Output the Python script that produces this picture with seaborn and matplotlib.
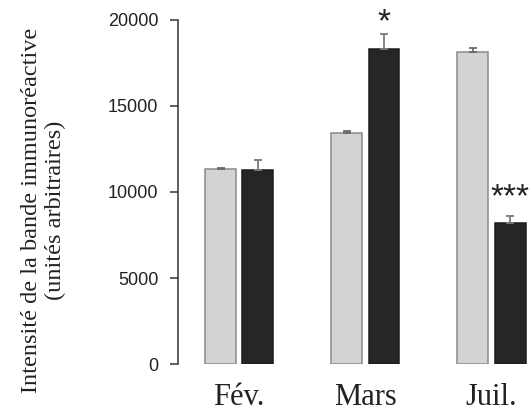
import matplotlib
matplotlib.use("Agg")
import matplotlib.pyplot as plt
import seaborn as sns
import pandas as pd

# ---- data ----
months = ["Fév.", "Mars", "Juil."]
groups = ["Témoin", "Traité"]
values_gray = [11300, 13430, 18130]
errors_gray = [100, 100, 200]
values_black = [11270, 18300, 8180]
errors_black = [580, 850, 420]
yticks = [0, 5000, 10000, 15000, 20000]
ylabel = "Intensité de la bande immunoréactive\n(unités arbitraires)"
star_labels = ["", "*", "***"]
star_y = [None, 19300, 9170]

df = pd.DataFrame({
    "mois": months * 2,
    "groupe": [groups[0]] * 3 + [groups[1]] * 3,
    "valeur": values_gray + values_black,
})

sns.set_theme(style="white")
fig = plt.figure(figsize=(5.32, 4.13), dpi=100)
ax = fig.add_axes([177.7 / 532, 1 - 364.3 / 413, 1 - 177.7 / 532, (364.3 - 19.5) / 413])

palette = {groups[0]: "#d3d3d3", groups[1]: "#262626"}
sns.barplot(data=df, x="mois", y="valeur", hue="groupe", order=months,
            hue_order=groups, palette=palette, width=0.59, gap=0.17,
            errorbar=None, legend=False, ax=ax, saturation=1)

bar_conts = list(ax.containers)
edge_colors = ["#8a8a8a", "#1c1c1c"]
err_colors = ["#6a6a6a", "#7a7a7a"]
errs = [errors_gray, errors_black]
vals = [values_gray, values_black]
centers = []
for ci, cont in enumerate(bar_conts):
    xs = []
    for p in cont.patches:
        p.set_edgecolor(edge_colors[ci])
        p.set_linewidth(1.1)
        xs.append(p.get_x() + p.get_width() / 2)
    centers.append(xs)
    ax.errorbar(xs, vals[ci], yerr=[[0] * len(xs), errs[ci]], fmt="none",
                ecolor=err_colors[ci], elinewidth=1.3, capsize=3.2,
                capthick=1.3, zorder=1)

# significance stars over the second series
for x, lab, yy in zip(centers[1], star_labels, star_y):
    if lab:
        ax.text(x, yy, lab, ha="center", va="baseline", fontsize=24,
                family="Liberation Sans", color="#222222", clip_on=False)

ax.set_ylim(0, 20000)
ax.set_xlim(-0.4875, 2.321)
ax.set_yticks(yticks)
ax.set_yticklabels([str(t) for t in yticks], family="Liberation Sans",
                   fontsize=13, color="#222222")
ax.set_xticks(range(len(months)))
ax.set_xticklabels(months, family="Liberation Serif", fontsize=22,
                   color="#222222")
ax.tick_params(axis="y", length=6, width=1.1, color="#333333", pad=8,
               left=True, direction="out")
ax.tick_params(axis="x", length=0, pad=13.5)
ax.set_xlabel("")
ax.set_ylabel("")
for s in ["top", "right", "bottom"]:
    ax.spines[s].set_visible(False)
ax.spines["left"].set_color("#333333")
ax.spines["left"].set_linewidth(1.1)
ax.patch.set_alpha(0)

fig.text(43.3 / 532, 1 - 210 / 413, ylabel, rotation=90, ha="center",
         va="center", multialignment="center", family="Liberation Serif",
         fontsize=17.5, color="#222222")

fig.savefig("out.png", dpi=100)
